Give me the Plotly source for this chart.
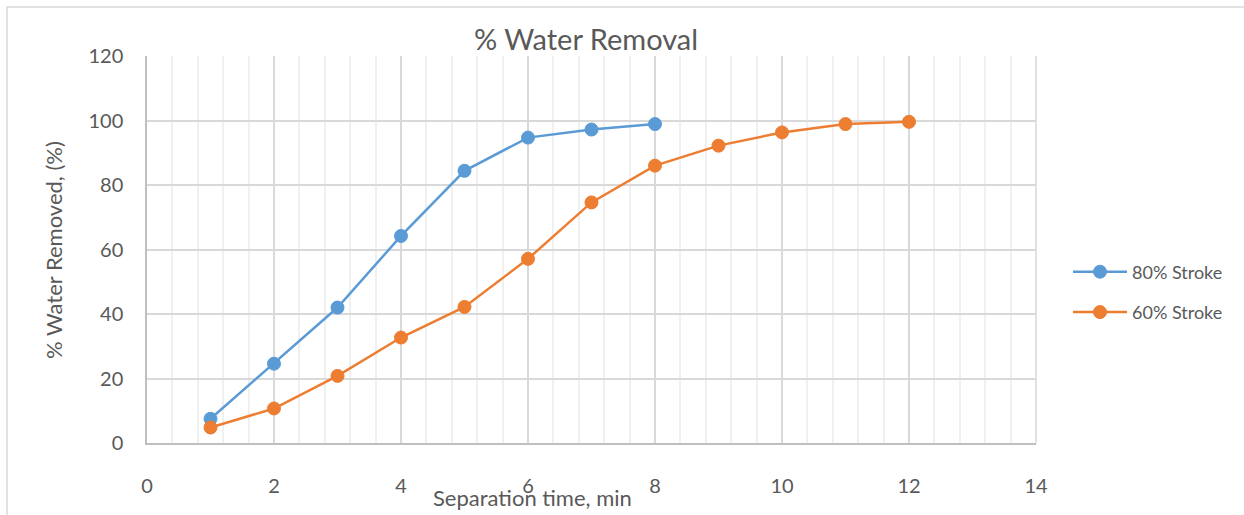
import plotly.graph_objects as go

# Separation time (min) and % water removed for each stroke setting
time_80 = [1, 2, 3, 4, 5, 6, 7, 8]
removed_80 = [7.5, 24.6, 42.0, 64.2, 84.4, 94.7, 97.2, 98.9]

time_60 = [1, 2, 3, 4, 5, 6, 7, 8, 9, 10, 11, 12]
removed_60 = [4.8, 10.7, 20.8, 32.7, 42.2, 57.1, 74.6, 86.0, 92.2, 96.3, 98.9, 99.6]

series_names = ["80% Stroke", "60% Stroke"]
colors = ["#5B9BD5", "#ED7D31"]

W, H = 1244, 515
L, R, T, B = 147, 208, 56, 72
PW, PH = W - L - R, H - T - B

def px_x(px):
    return (px - L) / PW

def px_y(py):
    return (H - B - py) / PH

FONT = "Lato"
TXT = "#595959"

fig = go.Figure()
for i, (xs, ys) in enumerate([(time_80, removed_80), (time_60, removed_60)]):
    fig.add_trace(go.Scatter(
        x=xs, y=ys, mode="lines+markers", name=series_names[i],
        legendgroup=series_names[i],
        line=dict(color=colors[i], width=2.5),
        marker=dict(color=colors[i], size=13, line=dict(color=colors[i], width=1)),
    ))

fig.update_layout(
    width=W, height=H,
    margin=dict(l=L, r=R, t=T, b=B, autoexpand=False),
    paper_bgcolor="white", plot_bgcolor="white",
    font=dict(family=FONT, color=TXT),
    title=dict(text="% Water Removal", font=dict(size=29, color=TXT, family=FONT),
               x=586 / W, xref="container", xanchor="center",
               y=1 - 40 / H, yref="container", yanchor="middle"),
    showlegend=True,
    legend=dict(x=px_x(1068), y=px_y(292), xanchor="left", yanchor="middle",
                font=dict(size=18, color=TXT, family=FONT),
                traceorder="grouped", tracegroupgap=14, itemwidth=54,
                bgcolor="rgba(0,0,0,0)"),
    xaxis=dict(range=[0, 14], dtick=2, tick0=0, showgrid=True,
               gridcolor="#D9D9D9", gridwidth=1.5,
               minor=dict(dtick=0.4, tick0=0, showgrid=True, gridcolor="#F0F0F0", gridwidth=1.5),
               showline=True, linecolor="#BFBFBF", linewidth=1.5,
               zeroline=False, ticks="", ticklabelstandoff=24,
               tickfont=dict(size=20, color=TXT, family=FONT), fixedrange=True),
    yaxis=dict(range=[0, 120], dtick=20, tick0=0, showgrid=True,
               gridcolor="#D9D9D9", gridwidth=1.5,
               showline=True, linecolor="#BFBFBF", linewidth=1.5,
               zeroline=False, ticks="", ticklabelstandoff=18,
               tickfont=dict(size=20, color=TXT, family=FONT), fixedrange=True),
)

# right edge of the plot area
fig.add_shape(type="line", xref="paper", yref="paper", x0=1, x1=1, y0=0, y1=1,
              line=dict(color="#D9D9D9", width=1.5), layer="below")

# chart border
fig.add_shape(type="rect", xref="paper", yref="paper",
              x0=px_x(7), x1=px_x(1248), y0=px_y(525), y1=px_y(7),
              line=dict(color="#D9D9D9", width=1.5), fillcolor="rgba(0,0,0,0)")

# axis titles
fig.add_annotation(text="% Water Removed, (%)", xref="paper", yref="paper",
                   x=px_x(54), y=px_y(250), textangle=-90, showarrow=False,
                   xanchor="center", yanchor="middle",
                   font=dict(size=22, color=TXT, family=FONT))
fig.add_annotation(text="Separation time, min", xref="paper", yref="paper",
                   x=px_x(532), y=px_y(497), showarrow=False,
                   xanchor="center", yanchor="middle",
                   font=dict(size=22, color=TXT, family=FONT))

fig.write_html("out.html")
